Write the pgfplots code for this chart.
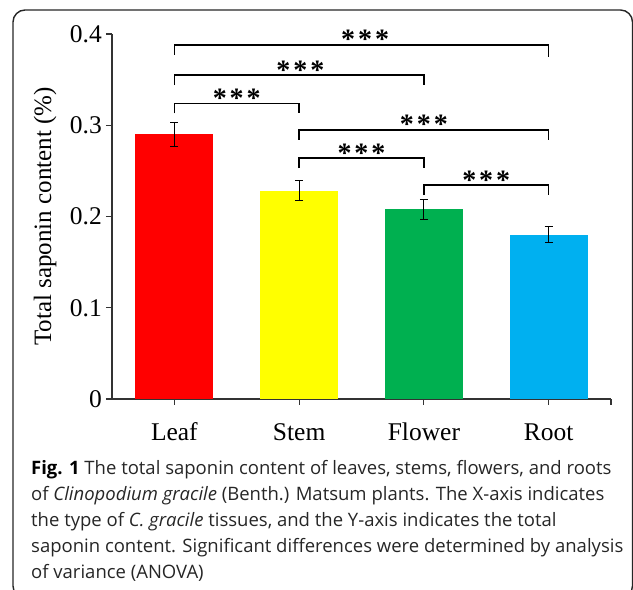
\documentclass[border=0pt]{standalone}
\usepackage{fontspec}
\setmainfont{Liberation Serif}
\newfontfamily\capfont{Open Sans}
\usepackage{pgfplots}
\pgfplotsset{compat=1.18}
\definecolor{cred}{HTML}{FF0000}
\definecolor{cyel}{HTML}{FFFF00}
\definecolor{cgreen}{HTML}{00B050}
\definecolor{cblue}{HTML}{00B0F0}
\definecolor{axgray}{HTML}{333333}
\begin{document}
\begin{tikzpicture}[x=1pt,y=1pt]
\useasboundingbox (0,0) rectangle (633,590);
\draw[line width=1.4pt, color=black!85, rounded corners=12pt] (13,-8) rectangle (632.5,580);
\begin{axis}[
  at={(112pt,191pt)}, anchor=south west,
  scale only axis, width=499pt, height=365pt,
  xmin=-0.5, xmax=3.5, ymin=0, ymax=0.4,
  axis lines=left, axis line style={-, line width=1.1pt, axgray},
  clip=false,
  xtick={0,1,2,3}, xticklabels={Leaf,Stem,Flower,Root},
  extra x ticks={3.5}, extra x tick labels={},
  ytick={0,0.1,0.2,0.3,0.4},
  yticklabels={0,0.1,0.2,0.3,0.4},
  tick align=outside, major tick length=6pt,
  tick style={line width=1.1pt, axgray},
  tick label style={font=\fontsize{25.5}{30}\selectfont},
  /pgf/number format/assume math mode=true,
  xticklabel style={anchor=base, yshift=-36pt},
  yticklabel style={inner sep=0pt, xshift=-4pt},
  label style={font=\fontsize{25}{30}\selectfont},
  ylabel={Total saponin content (\%)},
  ylabel style={at={(axis description cs:-0.134,0.5)}, anchor=center},
]
\addplot[ybar, bar shift=0pt, bar width=78pt, fill=cred, draw=none,
  error bars/.cd, y dir=both, y explicit,
  error bar style={line width=1pt, black},
  error mark options={rotate=90, mark size=4pt, line width=1pt, black}]
  coordinates {(0,0.290) +- (0,0.0135)};
\addplot[ybar, bar shift=0pt, bar width=78pt, fill=cyel, draw=none,
  error bars/.cd, y dir=both, y explicit,
  error bar style={line width=1pt, black},
  error mark options={rotate=90, mark size=4pt, line width=1pt, black}]
  coordinates {(1,0.228) +- (0,0.011)};
\addplot[ybar, bar shift=0pt, bar width=78pt, fill=cgreen, draw=none,
  error bars/.cd, y dir=both, y explicit,
  error bar style={line width=1pt, black},
  error mark options={rotate=90, mark size=4pt, line width=1pt, black}]
  coordinates {(2,0.208) +- (0,0.011)};
\addplot[ybar, bar shift=0pt, bar width=78pt, fill=cblue, draw=none,
  error bars/.cd, y dir=both, y explicit,
  error bar style={line width=1pt, black},
  error mark options={rotate=90, mark size=4pt, line width=1pt, black}]
  coordinates {(3,0.180) +- (0,0.009)};
% significance brackets
\addplot[black, line width=1.5pt, no marks] coordinates {(0,0.377) (0,0.388) (3,0.388) (3,0.375)};
\addplot[black, line width=1.5pt, no marks] coordinates {(0,0.344) (0,0.355) (2,0.355) (2,0.344)};
\addplot[black, line width=1.5pt, no marks] coordinates {(0,0.313) (0,0.324) (1,0.324) (1,0.313)};
\addplot[black, line width=1.5pt, no marks] coordinates {(1,0.284) (1,0.295) (3,0.295) (3,0.284)};
\addplot[black, line width=1.5pt, no marks] coordinates {(1,0.253) (1,0.264) (2,0.264) (2,0.253)};
\addplot[black, line width=1.5pt, no marks] coordinates {(2,0.2235) (2,0.2345) (3,0.2345) (3,0.2235)};
\tikzset{stars/.style={anchor=base, inner sep=0pt, yshift=-4pt, font=\bfseries\fontsize{28}{28}\selectfont}}
\node[stars] at (axis cs:1.53,0.388) {*\kern3pt*\kern3pt*};
\node[stars] at (axis cs:1.01,0.355) {*\kern3pt*\kern3pt*};
\node[stars] at (axis cs:0.5,0.324) {*\kern3pt*\kern3pt*};
\node[stars] at (axis cs:2,0.295) {*\kern3pt*\kern3pt*};
\node[stars] at (axis cs:1.5,0.264) {*\kern3pt*\kern3pt*};
\node[stars] at (axis cs:2.5,0.2345) {*\kern3pt*\kern3pt*};
\end{axis}
\tikzset{capline/.style={anchor=base west, inner sep=0pt, text=black!85,
  font=\capfont\fontsize{18.5}{26}\selectfont}}
\node[capline] at (31,115) {{\bfseries\color{black}Fig. 1} The total saponin content of leaves, stems, flowers, and roots};
\node[capline] at (31,89) {of {\itshape Clinopodium gracile} (Benth.) Matsum plants. The X-axis indicates};
\node[capline] at (31,63) {the type of {\itshape C. gracile} tissues, and the Y-axis indicates the total};
\node[capline] at (31,37) {saponin content. Significant differences were determined by analysis};
\node[capline] at (31,11) {of variance (ANOVA)};
\end{tikzpicture}
\end{document}
